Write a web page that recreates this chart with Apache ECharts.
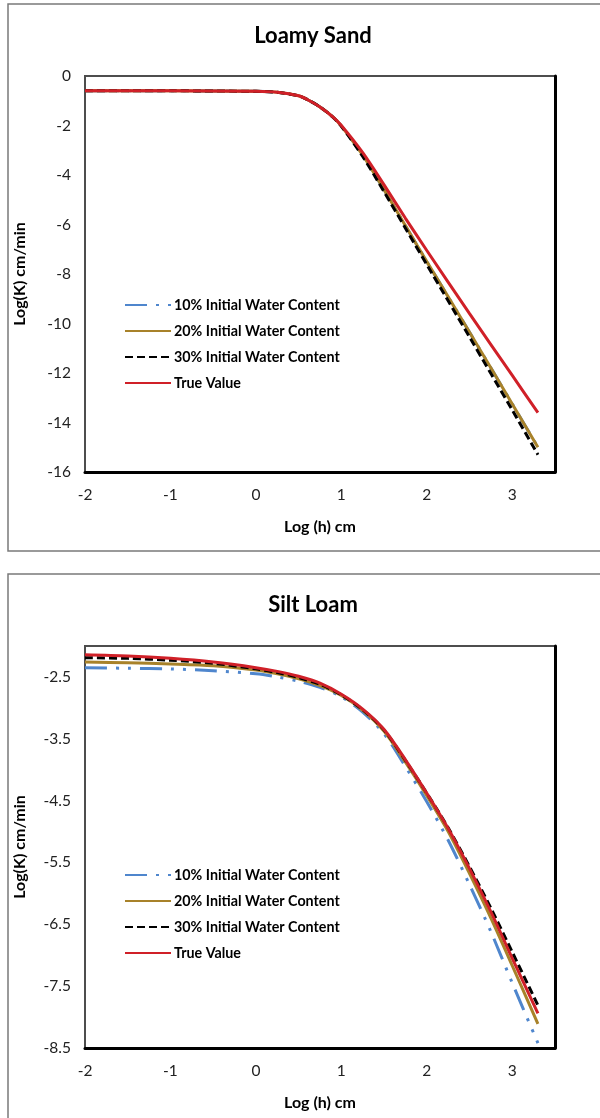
<!DOCTYPE html>
<html>
<head>
<meta charset="utf-8">
<script src="https://cdn.jsdelivr.net/npm/echarts@6/dist/echarts.min.js"></script>
<style>
html,body{margin:0;padding:0;background:#fff;}
#chart{width:600px;height:1118px;}
</style>
</head>
<body>
<div id="chart"></div>
<script>
// ---- Data ----
const seriesNames = ['10% Initial Water Content', '20% Initial Water Content', '30% Initial Water Content', 'True Value'];
const xTicksTop = [-2, -1, 0, 1, 2, 3];

// Loamy Sand
const xLoamy = [-2, -1, 0, 0.25, 0.5, 0.6, 0.75, 0.9, 1.0, 1.25, 1.5, 1.75, 2.0, 2.5, 3.0, 3.3];
const loamy10 = [-0.6, -0.6, -0.62, -0.66, -0.8, -0.95, -1.25, -1.65, -2.02, -3.2, -4.6, -6.05, -7.5, -10.35, -13.25, -15.0];
const loamy20 = [-0.6, -0.6, -0.62, -0.66, -0.8, -0.95, -1.25, -1.65, -2.02, -3.2, -4.6, -6.05, -7.5, -10.35, -13.25, -15.0];
const loamy30 = [-0.6, -0.6, -0.62, -0.66, -0.8, -0.95, -1.25, -1.66, -2.03, -3.25, -4.68, -6.15, -7.62, -10.55, -13.5, -15.3];
const loamyTrue = [-0.6, -0.6, -0.62, -0.66, -0.8, -0.95, -1.25, -1.65, -2.0, -3.1, -4.4, -5.75, -7.05, -9.6, -12.1, -13.6];

// Silt Loam
const xSilt = [-2, -1.5, -1, -0.5, 0, 0.25, 0.5, 0.75, 1, 1.25, 1.5, 1.75, 2, 2.25, 2.5, 2.75, 3, 3.3];
const silt10 = [-2.35, -2.36, -2.37, -2.4, -2.45, -2.5, -2.57, -2.67, -2.82, -3.07, -3.42, -3.95, -4.52, -5.14, -5.86, -6.62, -7.45, -8.42];
const silt20 = [-2.26, -2.27, -2.29, -2.32, -2.39, -2.45, -2.53, -2.64, -2.8, -3.04, -3.38, -3.88, -4.42, -5.0, -5.68, -6.4, -7.17, -8.11];
const silt30 = [-2.19, -2.2, -2.23, -2.28, -2.37, -2.43, -2.51, -2.62, -2.79, -3.03, -3.36, -3.85, -4.38, -4.94, -5.57, -6.24, -6.95, -7.81];
const siltTrue = [-2.14, -2.16, -2.2, -2.26, -2.35, -2.41, -2.49, -2.6, -2.78, -3.02, -3.35, -3.84, -4.38, -4.95, -5.6, -6.3, -7.05, -7.94];

// ---- Build ----
const FONT = 'Lato';
const zip = (xs, ys) => xs.map((x, i) => [x, ys[i]]);
const styles = [
  {color: '#4f86cd', width: 3, type: [22, 9, 3, 9, 3, 9]},
  {color: '#a8822a', width: 3, type: 'solid'},
  {color: '#000000', width: 3, type: [8, 4]},
  {color: '#d02028', width: 3, type: 'solid'}
];
function mkSeries(grid, xs, arrs) {
  return arrs.map((ys, i) => ({
    name: seriesNames[i],
    type: 'line',
    xAxisIndex: grid, yAxisIndex: grid * 2,
    data: zip(xs, ys),
    showSymbol: false, symbol: 'none',
    smooth: 0.3,
    lineStyle: {color: styles[i].color, width: styles[i].width, type: styles[i].type, cap: 'butt'},
    itemStyle: {color: styles[i].color},
    z: 2 + i
  }));
}
function xAx(grid) {
  return {
    gridIndex: grid, type: 'value', min: -2, max: 3.5, interval: 1,
    name: 'Log (h) cm', nameLocation: 'middle', nameGap: 47,
    nameTextStyle: {fontFamily: FONT, fontWeight: 'bold', fontSize: 16, color: '#000'},
    axisLine: {show: true, onZero: false, lineStyle: {color: '#000', width: 3}},
    axisTick: {show: false}, splitLine: {show: false},
    axisLabel: {margin: 15, fontFamily: FONT, fontSize: 15.5, color: '#222',
      formatter: v => xTicksTop.indexOf(v) >= 0 ? String(v) : ''}
  };
}
function yAx(grid, min, max, interval, fmt) {
  return [{
    gridIndex: grid, type: 'value', min: min, max: max, interval: interval,
    name: 'Log(K) cm/min', nameLocation: 'middle', nameGap: 57,
    nameTextStyle: {fontFamily: FONT, fontWeight: 'bold', fontSize: 16, color: '#000'},
    axisLine: {show: true, onZero: false, lineStyle: {color: '#4d4d4d', width: 2}},
    axisTick: {show: false}, splitLine: {show: false},
    axisLabel: {margin: 14, fontFamily: FONT, fontSize: 15.5, color: '#222', formatter: fmt}
  }, {
    gridIndex: grid, type: 'value', position: 'right', min: min, max: max, interval: interval,
    axisLine: {show: true, onZero: false, lineStyle: {color: '#000', width: 3}},
    axisTick: {show: false}, splitLine: {show: false}, axisLabel: {show: false}
  }];
}
const fmtTop = v => (v > -0.001 && v < 0.001) ? '0' : String(v);
const fmtBottom = v => {
  const t = v + 0.5;
  if (Math.abs(t - Math.round(t)) < 1e-6 && v < -2.2) return v.toFixed(1);
  return '';
};
function legend(top) {
  return {
    data: seriesNames, orient: 'vertical', left: 119, top: top,
    itemWidth: 46, itemHeight: 14, itemGap: 12,
    itemStyle: {color: 'rgba(0,0,0,0)', borderColor: 'rgba(0,0,0,0)', borderWidth: 0, opacity: 0},
    textStyle: {fontFamily: FONT, fontWeight: 'bold', fontSize: 14.3, color: '#000', padding: [0, 0, 0, -2]},
    selectedMode: false
  };
}

const chart = echarts.init(document.getElementById('chart'), null, {renderer: 'canvas'});
chart.setOption({
  animation: false,
  backgroundColor: '#fff',
  graphic: [
    {type: 'rect', shape: {x: 8, y: 4, width: 640, height: 547}, style: {fill: 'none', stroke: '#7a7a7a', lineWidth: 1.5}, silent: true},
    {type: 'rect', shape: {x: 8, y: 574, width: 640, height: 600}, style: {fill: 'none', stroke: '#7a7a7a', lineWidth: 1.5}, silent: true}
  ],
  title: [
    {text: 'Loamy Sand', left: 308, top: 20, textAlign: 'center', textStyle: {fontFamily: FONT, fontWeight: 'bold', fontSize: 22, color: '#000'}},
    {text: 'Silt Loam', left: 308, top: 589, textAlign: 'center', textStyle: {fontFamily: FONT, fontWeight: 'bold', fontSize: 22, color: '#000'}}
  ],
  legend: [legend(293), legend(863)],
  grid: [
    {left: 85, top: 76, width: 470, height: 396, show: true, borderColor: '#4d4d4d', borderWidth: 2, backgroundColor: '#fff'},
    {left: 85, top: 646, width: 470, height: 402, show: true, borderColor: '#4d4d4d', borderWidth: 2, backgroundColor: '#fff'}
  ],
  xAxis: [xAx(0), xAx(1)],
  yAxis: [].concat(yAx(0, -16, 0, 2, fmtTop), yAx(1, -8.5, -2, 0.5, fmtBottom)),
  series: [].concat(
    mkSeries(0, xLoamy, [loamy10, loamy20, loamy30, loamyTrue]),
    mkSeries(1, xSilt, [silt10, silt20, silt30, siltTrue])
  )
});
</script>
</body>
</html>
